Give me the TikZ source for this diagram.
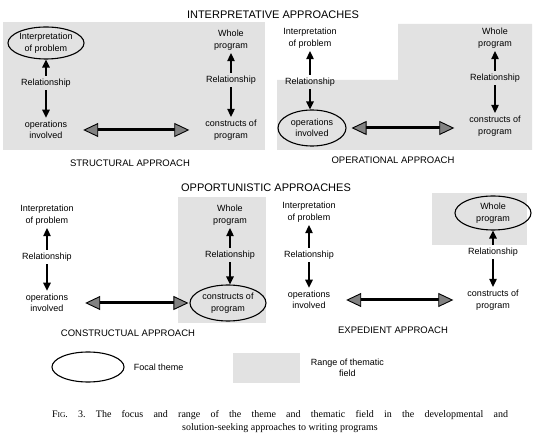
\documentclass[tikz,border=0pt]{standalone}
\usepackage{fontspec}
\setmainfont{Liberation Serif}
\setsansfont{Liberation Sans}
\usepackage{xcolor}
\definecolor{fieldgray}{RGB}{226,226,226}
\definecolor{tipgray}{RGB}{130,130,130}
\usetikzlibrary{arrows.meta, positioning, shapes.geometric}

\tikzset{
  lbl/.style={font=\sffamily\fontsize{9}{11.5}\selectfont, align=center, inner sep=3pt},
  focal/.style={lbl, ellipse, draw, line width=1.1pt, minimum width=76pt, minimum height=32pt, inner sep=0pt},
  head/.style={font=\sffamily\fontsize{11}{13}\selectfont},
  approach/.style={font=\sffamily\fontsize{9.5}{11}\selectfont},
  link/.style={-{Triangle[length=8pt,width=7.5pt]}, line width=1.3pt},
  swap/.style={{Triangle[length=15pt,width=14pt,line width=0.9pt,fill=tipgray]}-{Triangle[length=15pt,width=14pt,line width=0.9pt,fill=tipgray]}, line width=3pt},
  field/.style={fill=fieldgray, draw=none},
}

\begin{document}
\begin{tikzpicture}[x=1pt, y=-1pt]
  \useasboundingbox (0,0) rectangle (541,446);

  % thematic fields
  \fill[field] (3,22) rectangle (265,150);
  \fill[field] (277,80) -- (398,80) -- (398,24) -- (532,24) -- (532,150) -- (277,150) -- cycle;
  \fill[field] (178,197) rectangle (266,323);
  \fill[field] (432,193) rectangle (527,245);

  \node[head] (interp) at (273,15) {INTERPRETATIVE APPROACHES};
  \node[head] (oppor) at (266,188) {OPPORTUNISTIC APPROACHES};

  % structural
  \node[focal] (ip1) at (46,43) {Interpretation\\of problem};
  \node[lbl] (rl1) at (46,83) {Relationship};
  \node[lbl] (op1) at (46,130) {operations\\involved};
  \node[lbl] (wp1) at (231,40) {Whole\\program};
  \node[lbl] (rr1) at (231,80) {Relationship};
  \node[lbl] (cp1) at (231,130) {constructs of\\program};
  \draw[link] (rl1) -- (ip1);
  \draw[link] (rl1) -- (op1);
  \draw[link] (rr1) -- (wp1);
  \draw[link] (rr1) -- (cp1);
  \draw[swap, shorten <=13pt, shorten >=13pt] (op1) -- (cp1);
  \node[approach] (st) at (130,163) {STRUCTURAL APPROACH};

  % operational
  \node[lbl] (ip2) at (310,38) {Interpretation\\of problem};
  \node[lbl] (rl2) at (310,82) {Relationship};
  \node[focal, minimum width=68pt, minimum height=36pt] (op2) at (312,128) {operations\\involved};
  \node[lbl] (wp2) at (495,38) {Whole\\program};
  \node[lbl] (rr2) at (495,78) {Relationship};
  \node[lbl] (cp2) at (495,126) {constructs of\\program};
  \draw[link] (rl2) -- (ip2);
  \draw[link] (rl2) -- (rl2 |- op2.north);
  \draw[link] (rr2) -- (wp2);
  \draw[link] (rr2) -- (cp2);
  \draw[swap, shorten <=5pt, shorten >=12pt] (op2) -- (op2 -| cp2.west);
  \node[approach] (opn) at (393,160) {OPERATIONAL APPROACH};

  % constructual
  \node[lbl] (ip3) at (47,215) {Interpretation\\of problem};
  \node[lbl] (rl3) at (47,257) {Relationship};
  \node[lbl] (op3) at (47,303) {operations\\involved};
  \node[lbl] (wp3) at (230,215) {Whole\\program};
  \node[lbl] (rr3) at (230,255) {Relationship};
  \node[focal, minimum height=36pt] (cp3) at (228,303) {constructs of\\program};
  \draw[link] (rl3) -- (ip3);
  \draw[link] (rl3) -- (op3);
  \draw[link] (rr3) -- (wp3);
  \draw[link] (rr3) -- (rr3 |- cp3.north);
  \draw[swap, shorten <=14pt, shorten >=1pt] (op3) -- (cp3);
  \node[approach] (con) at (128,333) {CONSTRUCTUAL APPROACH};

  % expedient
  \node[lbl] (ip4) at (309,212) {Interpretation\\of problem};
  \node[lbl] (rl4) at (309,255) {Relationship};
  \node[lbl] (op4) at (309,300) {operations\\involved};
  \node[focal, minimum height=34pt] (wp4) at (493,213) {Whole\\program};
  \node[lbl] (rr4) at (493,252) {Relationship};
  \node[lbl] (cp4) at (493,300) {constructs of\\program};
  \draw[link] (rr4) -- (wp4);
  \draw[link] (rr4) -- (cp4);
  \draw[link] (rl4) -- (ip4);
  \draw[link] (rl4) -- (op4);
  \draw[swap, shorten <=13pt, shorten >=11pt] (op4) -- (cp4);
  \node[approach] (exp) at (393,330) {EXPEDIENT APPROACH};

  % key
  \node[focal, minimum width=72pt, minimum height=30pt] (key) at (88,367) {};
  \node[lbl, right=6pt of key] (keytxt) {Focal theme};
  \node[field, minimum width=67pt, minimum height=30pt] (range) at (266,368) {};
  \node[lbl, right=8pt of range] (rangetxt) {Range of thematic\\field};

  \node[inner sep=0pt] (caption) at (280,421.5) {\parbox{456pt}{\fontsize{10}{13}\selectfont\frenchspacing
    \leftskip=0pt plus 1fil\rightskip=0pt plus -1fil\parfillskip=0pt plus 2fil\noindent
    F{\fontsize{7.5}{9}\selectfont IG}. 3. The focus and range of the theme and thematic field in the developmental and\linebreak
    solution-seeking approaches to writing programs}};
\end{tikzpicture}
\end{document}
